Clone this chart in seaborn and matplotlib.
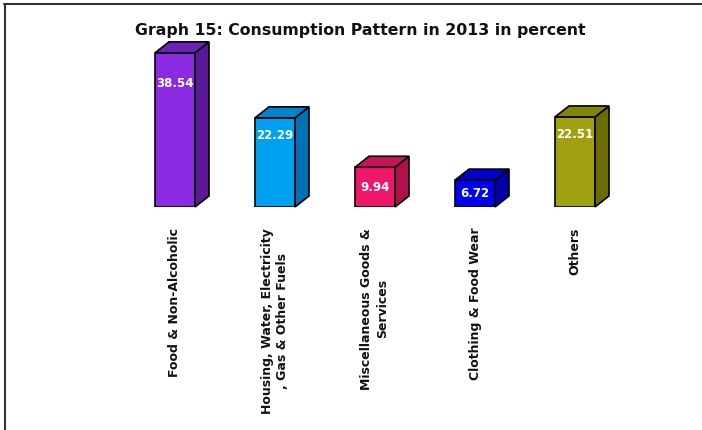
import matplotlib
matplotlib.use("Agg")
import matplotlib.pyplot as plt
from matplotlib.patches import Polygon
from matplotlib.lines import Line2D
import seaborn as sns
import pandas as pd

categories = [
    "Food & Non-Alcoholic",
    "Housing, Water, Electricity\n, Gas & Other Fuels",
    "Miscellaneous Goods &\nServices",
    "Clothing & Food Wear",
    "Others",
]
shares = [38.54, 22.29, 9.94, 6.72, 22.51]
front_colors = ["#8A2BE2", "#00A0F0", "#F0166A", "#0000F0", "#A0A010"]
side_colors = ["#5A1A98", "#0070B4", "#B0104C", "#0000A8", "#6C6C00"]
top_colors = ["#6C22B8", "#0084CC", "#C8125A", "#0000C8", "#848408"]

sns.set_theme(style="white")
plt.rcParams["font.family"] = ["DejaVu Sans"]

W, H = 702, 430
fig = plt.figure(figsize=(W / 100, H / 100), dpi=100)
fig.patch.set_facecolor("white")

ax_left, ax_bottom, ax_w, ax_h = 125, 223, 500, 180
ax = fig.add_axes([ax_left / W, ax_bottom / H, ax_w / W, ax_h / H])

df = pd.DataFrame({"category": categories, "share": shares})
sns.barplot(
    data=df, x="category", y="share", hue="category",
    palette=front_colors, saturation=1, width=0.4,
    legend=False, ax=ax,
)

ax.set_xlim(-0.5, 4.5)
ax.set_ylim(0, 45)
ax.set_facecolor("white")
for s in ax.spines.values():
    s.set_visible(False)
ax.set_xlabel("")
ax.set_ylabel("")
ax.set_yticks([])
ax.tick_params(axis="x", length=0, pad=15)
ax.set_xticks(range(len(categories)))
ax.set_xticklabels(categories, rotation=90, fontsize=9, fontweight="bold",
                   color="#111111", linespacing=1.3, multialignment="center")

# depth of the 3-D extrusion, converted from pixels to data units
px_x = ax_w / (ax.get_xlim()[1] - ax.get_xlim()[0])
px_y = ax_h / (ax.get_ylim()[1] - ax.get_ylim()[0])
dx = 14 / px_x
dy = 11 / px_y

for i, p in enumerate(list(ax.patches)):
    p.set_edgecolor("black")
    p.set_linewidth(1.2)
    x0, w, h = p.get_x(), p.get_width(), p.get_height()
    x1 = x0 + w
    side = Polygon([(x1, 0), (x1 + dx, dy), (x1 + dx, h + dy), (x1, h)],
                   closed=True, facecolor=side_colors[i], edgecolor="black",
                   linewidth=1.2, clip_on=False, zorder=p.get_zorder())
    top = Polygon([(x0, h), (x0 + dx, h + dy), (x1 + dx, h + dy), (x1, h)],
                  closed=True, facecolor=top_colors[i], edgecolor="black",
                  linewidth=1.2, clip_on=False, zorder=p.get_zorder())
    ax.add_patch(side)
    ax.add_patch(top)
    ylab = h * 0.8 if h > 15 else h * 0.5
    ax.text(p.get_x() + w / 2, ylab, f"{h:.2f}", ha="center", va="center",
            color="white", fontsize=8.5, fontweight="bold", zorder=10)

fig.text(360 / W, (H - 30) / H, "Graph 15: Consumption Pattern in 2013 in percent",
         ha="center", va="center", fontsize=11.3, fontweight="bold", color="#111111")

# frame lines along the top and left edges
fig.add_artist(Line2D([4 / W, 1.0], [(H - 4) / H, (H - 4) / H],
                      transform=fig.transFigure, color="#333333", linewidth=1.5))
fig.add_artist(Line2D([5 / W, 5 / W], [0, (H - 4) / H],
                      transform=fig.transFigure, color="#333333", linewidth=1.5))

fig.savefig("out.png", dpi=100, facecolor="white")
